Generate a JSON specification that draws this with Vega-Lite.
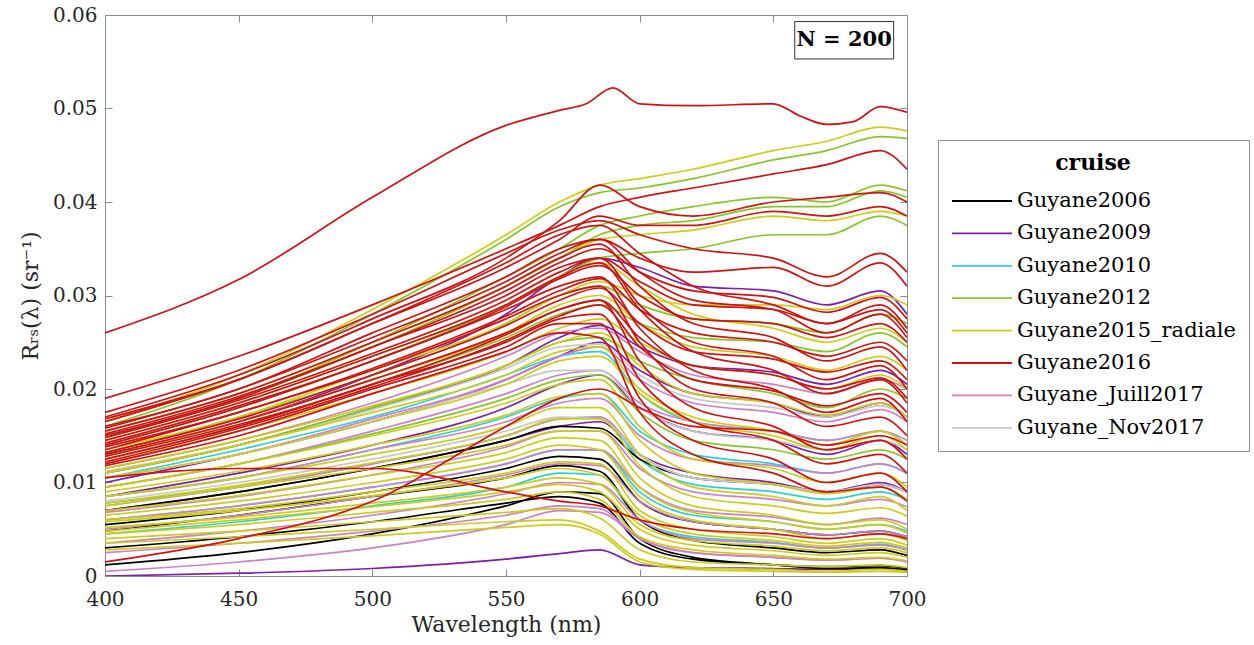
{
"$schema":"https://vega.github.io/schema/vega-lite/v6.json",
"autosize":"none",
"padding":{"left":105,"top":15,"right":347,"bottom":69},
"width":802,"height":561,
"background":"white",
"config":{
"font":"DejaVu Serif",
"view":{"stroke":"#8c8c8c","strokeWidth":1},
"axis":{"grid":false,"domain":false,"labelFlush":false,"tickColor":"#8c8c8c","tickSize":-7,"labelFontSize":20,"labelColor":"#262626","titleFontSize":22,"titleFontWeight":"normal","titleColor":"#262626","labelFont":"DejaVu Serif","titleFont":"DejaVu Serif"},
"legend":{"orient":"none","legendX":833,"legendY":125,"strokeColor":"#8c8c8c","fillColor":"white","padding":13,"titleFontSize":22,"titleFontWeight":"bold","titleAnchor":"middle","titleColor":"#000000","titlePadding":15,"labelFontSize":21,"labelColor":"#000000","labelLimit":400,"symbolType":"M-1,0H5","symbolSize":400,"symbolStrokeWidth":1.8,"rowPadding":11.4,"labelOffset":44}
},
"resolve":{"axis":{"x":"independent","y":"independent"}},
"datasets":{
"meta":[
{"s":1,"c":"Guyane2016"},{"s":2,"c":"Guyane2016"},{"s":3,"c":"Guyane2015_radiale"},{"s":4,"c":"Guyane2012"},{"s":5,"c":"Guyane2012"},{"s":6,"c":"Guyane2012"},{"s":7,"c":"Guyane2016"},{"s":8,"c":"Guyane2016"},{"s":9,"c":"Guyane2015_radiale"},{"s":10,"c":"Guyane2012"},
{"s":11,"c":"Guyane2016"},{"s":12,"c":"Guyane2016"},{"s":13,"c":"Guyane2016"},{"s":14,"c":"Guyane2016"},{"s":15,"c":"Guyane2016"},{"s":16,"c":"Guyane2016"},{"s":17,"c":"Guyane2016"},{"s":18,"c":"Guyane2016"},{"s":19,"c":"Guyane2016"},{"s":20,"c":"Guyane2016"},
{"s":21,"c":"Guyane2016"},{"s":22,"c":"Guyane2016"},{"s":23,"c":"Guyane2016"},{"s":24,"c":"Guyane2012"},{"s":25,"c":"Guyane2012"},{"s":26,"c":"Guyane2015_radiale"},{"s":27,"c":"Guyane2015_radiale"},{"s":28,"c":"Guyane2015_radiale"},{"s":29,"c":"Guyane2015_radiale"},{"s":30,"c":"Guyane2015_radiale"},
{"s":31,"c":"Guyane2015_radiale"},{"s":32,"c":"Guyane2015_radiale"},{"s":33,"c":"Guyane2015_radiale"},{"s":34,"c":"Guyane2015_radiale"},{"s":35,"c":"Guyane2015_radiale"},{"s":36,"c":"Guyane2015_radiale"},{"s":37,"c":"Guyane2015_radiale"},{"s":38,"c":"Guyane2015_radiale"},{"s":39,"c":"Guyane2009"},{"s":40,"c":"Guyane2009"},
{"s":41,"c":"Guyane2009"},{"s":42,"c":"Guyane2009"},{"s":43,"c":"Guyane2009"},{"s":44,"c":"Guyane2010"},{"s":45,"c":"Guyane2010"},{"s":46,"c":"Guyane2010"},{"s":47,"c":"Guyane2010"},{"s":48,"c":"Guyane2006"},{"s":49,"c":"Guyane2006"},{"s":50,"c":"Guyane2006"},
{"s":51,"c":"Guyane2006"},{"s":52,"c":"Guyane_Juill2017"},{"s":53,"c":"Guyane_Juill2017"},{"s":54,"c":"Guyane_Juill2017"},{"s":55,"c":"Guyane_Juill2017"},{"s":56,"c":"Guyane_Juill2017"},{"s":57,"c":"Guyane_Juill2017"},{"s":58,"c":"Guyane_Juill2017"},{"s":59,"c":"Guyane_Nov2017"},{"s":60,"c":"Guyane_Nov2017"},
{"s":61,"c":"Guyane2016"},{"s":62,"c":"Guyane2016"},{"s":63,"c":"Guyane2016"},{"s":64,"c":"Guyane2016"},{"s":65,"c":"Guyane2016"},{"s":66,"c":"Guyane2015_radiale"},{"s":67,"c":"Guyane2015_radiale"},{"s":68,"c":"Guyane2012"},
{"s":69,"c":"Guyane2015_radiale"},{"s":70,"c":"Guyane2015_radiale"},{"s":71,"c":"Guyane2015_radiale"},{"s":72,"c":"Guyane2015_radiale"},{"s":73,"c":"Guyane2015_radiale"},{"s":74,"c":"Guyane_Juill2017"},{"s":75,"c":"Guyane_Juill2017"},{"s":76,"c":"Guyane_Juill2017"},{"s":77,"c":"Guyane2009"},{"s":78,"c":"Guyane2010"},
{"s":79,"c":"Guyane2016"},{"s":80,"c":"Guyane2016"},{"s":81,"c":"Guyane2016"},{"s":82,"c":"Guyane2016"},{"s":83,"c":"Guyane2012"},{"s":84,"c":"Guyane2015_radiale"},{"s":85,"c":"Guyane_Nov2017"},{"s":86,"c":"Guyane2006"},{"s":87,"c":"Guyane_Juill2017"},{"s":88,"c":"Guyane2015_radiale"}
],
"pts":[
{"s":39,"w":400,"r":0.0},{"s":39,"w":450,"r":0.0003},{"s":39,"w":500,"r":0.0008},{"s":39,"w":550,"r":0.0018},{"s":39,"w":570,"r":0.0024},{"s":39,"w":585,"r":0.0028},{"s":39,"w":600,"r":0.0012},{"s":39,"w":620,"r":0.0009},{"s":39,"w":650,"r":0.0008},{"s":39,"w":670,"r":0.0007},{"s":39,"w":690,"r":0.0008},{"s":39,"w":700,"r":0.0007},
{"s":40,"w":400,"r":0.010},{"s":40,"w":450,"r":0.013},{"s":40,"w":500,"r":0.0165},{"s":40,"w":550,"r":0.021},{"s":40,"w":570,"r":0.0235},{"s":40,"w":585,"r":0.025},{"s":40,"w":600,"r":0.022},{"s":40,"w":620,"r":0.0195},{"s":40,"w":650,"r":0.0185},{"s":40,"w":670,"r":0.017},{"s":40,"w":690,"r":0.0185},{"s":40,"w":700,"r":0.017},
{"s":41,"w":400,"r":0.0085},{"s":41,"w":450,"r":0.011},{"s":41,"w":500,"r":0.014},{"s":41,"w":550,"r":0.018},{"s":41,"w":570,"r":0.0205},{"s":41,"w":585,"r":0.0215},{"s":41,"w":600,"r":0.018},{"s":41,"w":620,"r":0.0155},{"s":41,"w":650,"r":0.0145},{"s":41,"w":670,"r":0.013},{"s":41,"w":690,"r":0.0145},{"s":41,"w":700,"r":0.013},
{"s":42,"w":400,"r":0.013},{"s":42,"w":450,"r":0.0165},{"s":42,"w":500,"r":0.0215},{"s":42,"w":550,"r":0.028},{"s":42,"w":570,"r":0.032},{"s":42,"w":585,"r":0.034},{"s":42,"w":600,"r":0.033},{"s":42,"w":620,"r":0.031},{"s":42,"w":650,"r":0.0305},{"s":42,"w":670,"r":0.029},{"s":42,"w":690,"r":0.0305},{"s":42,"w":700,"r":0.028},
{"s":43,"w":400,"r":0.007},{"s":43,"w":450,"r":0.009},{"s":43,"w":500,"r":0.0115},{"s":43,"w":550,"r":0.0145},{"s":43,"w":570,"r":0.016},{"s":43,"w":585,"r":0.0165},{"s":43,"w":600,"r":0.013},{"s":43,"w":620,"r":0.011},{"s":43,"w":650,"r":0.010},{"s":43,"w":670,"r":0.009},{"s":43,"w":690,"r":0.010},{"s":43,"w":700,"r":0.009},
{"s":77,"w":400,"r":0.011},{"s":77,"w":450,"r":0.014},{"s":77,"w":500,"r":0.018},{"s":77,"w":550,"r":0.0225},{"s":77,"w":570,"r":0.0255},{"s":77,"w":585,"r":0.0268},{"s":77,"w":600,"r":0.0245},{"s":77,"w":620,"r":0.0225},{"s":77,"w":650,"r":0.0218},{"s":77,"w":670,"r":0.0205},{"s":77,"w":690,"r":0.022},{"s":77,"w":700,"r":0.0205},
{"s":44,"w":400,"r":0.0085},{"s":44,"w":450,"r":0.0105},{"s":44,"w":500,"r":0.0135},{"s":44,"w":550,"r":0.017},{"s":44,"w":570,"r":0.019},{"s":44,"w":585,"r":0.0195},{"s":44,"w":600,"r":0.0155},{"s":44,"w":620,"r":0.013},{"s":44,"w":650,"r":0.012},{"s":44,"w":670,"r":0.011},{"s":44,"w":690,"r":0.012},{"s":44,"w":700,"r":0.011},
{"s":45,"w":400,"r":0.006},{"s":45,"w":450,"r":0.0075},{"s":45,"w":500,"r":0.0095},{"s":45,"w":550,"r":0.012},{"s":45,"w":570,"r":0.0135},{"s":45,"w":585,"r":0.0135},{"s":45,"w":600,"r":0.009},{"s":45,"w":620,"r":0.0065},{"s":45,"w":650,"r":0.0058},{"s":45,"w":670,"r":0.005},{"s":45,"w":690,"r":0.0055},{"s":45,"w":700,"r":0.0048},
{"s":46,"w":400,"r":0.0045},{"s":46,"w":450,"r":0.0058},{"s":46,"w":500,"r":0.0075},{"s":46,"w":550,"r":0.0095},{"s":46,"w":570,"r":0.011},{"s":46,"w":585,"r":0.0108},{"s":46,"w":600,"r":0.006},{"s":46,"w":620,"r":0.0042},{"s":46,"w":650,"r":0.0036},{"s":46,"w":670,"r":0.003},{"s":46,"w":690,"r":0.0034},{"s":46,"w":700,"r":0.0028},
{"s":47,"w":400,"r":0.0105},{"s":47,"w":450,"r":0.0135},{"s":47,"w":500,"r":0.017},{"s":47,"w":550,"r":0.0215},{"s":47,"w":570,"r":0.0235},{"s":47,"w":585,"r":0.024},{"s":47,"w":600,"r":0.0195},{"s":47,"w":620,"r":0.0165},{"s":47,"w":650,"r":0.0155},{"s":47,"w":670,"r":0.0145},{"s":47,"w":690,"r":0.0155},{"s":47,"w":700,"r":0.014},
{"s":78,"w":400,"r":0.0078},{"s":78,"w":450,"r":0.0095},{"s":78,"w":500,"r":0.012},{"s":78,"w":550,"r":0.015},{"s":78,"w":570,"r":0.0168},{"s":78,"w":585,"r":0.017},{"s":78,"w":600,"r":0.0125},{"s":78,"w":620,"r":0.0098},{"s":78,"w":650,"r":0.009},{"s":78,"w":670,"r":0.0082},{"s":78,"w":690,"r":0.009},{"s":78,"w":700,"r":0.0082},
{"s":48,"w":400,"r":0.0012},{"s":48,"w":450,"r":0.0025},{"s":48,"w":500,"r":0.0045},{"s":48,"w":550,"r":0.0075},{"s":48,"w":570,"r":0.009},{"s":48,"w":585,"r":0.0088},{"s":48,"w":600,"r":0.004},{"s":48,"w":620,"r":0.002},{"s":48,"w":650,"r":0.0012},{"s":48,"w":670,"r":0.0008},{"s":48,"w":690,"r":0.0009},{"s":48,"w":700,"r":0.0006},
{"s":49,"w":400,"r":0.0048},{"s":49,"w":450,"r":0.0065},{"s":49,"w":500,"r":0.0085},{"s":49,"w":550,"r":0.0105},{"s":49,"w":570,"r":0.0118},{"s":49,"w":585,"r":0.0112},{"s":49,"w":600,"r":0.006},{"s":49,"w":620,"r":0.0038},{"s":49,"w":650,"r":0.003},{"s":49,"w":670,"r":0.0025},{"s":49,"w":690,"r":0.0028},{"s":49,"w":700,"r":0.0022},
{"s":50,"w":400,"r":0.003},{"s":50,"w":450,"r":0.0042},{"s":50,"w":500,"r":0.0058},{"s":50,"w":550,"r":0.0078},{"s":50,"w":570,"r":0.0085},{"s":50,"w":585,"r":0.0078},{"s":50,"w":600,"r":0.0035},{"s":50,"w":620,"r":0.0018},{"s":50,"w":650,"r":0.0012},{"s":50,"w":670,"r":0.001},{"s":50,"w":690,"r":0.0011},{"s":50,"w":700,"r":0.0008},
{"s":51,"w":400,"r":0.007},{"s":51,"w":450,"r":0.009},{"s":51,"w":500,"r":0.0115},{"s":51,"w":550,"r":0.0145},{"s":51,"w":570,"r":0.016},{"s":51,"w":585,"r":0.0158},{"s":51,"w":600,"r":0.0125},{"s":51,"w":620,"r":0.0105},{"s":51,"w":650,"r":0.0098},{"s":51,"w":670,"r":0.009},{"s":51,"w":690,"r":0.0098},{"s":51,"w":700,"r":0.009},
{"s":86,"w":400,"r":0.0055},{"s":86,"w":450,"r":0.007},{"s":86,"w":500,"r":0.009},{"s":86,"w":550,"r":0.0115},{"s":86,"w":570,"r":0.0128},{"s":86,"w":585,"r":0.0125},{"s":86,"w":600,"r":0.008},{"s":86,"w":620,"r":0.0058},{"s":86,"w":650,"r":0.005},{"s":86,"w":670,"r":0.0044},{"s":86,"w":690,"r":0.0048},{"s":86,"w":700,"r":0.0042},
{"s":52,"w":400,"r":0.0095},{"s":52,"w":450,"r":0.012},{"s":52,"w":500,"r":0.0155},{"s":52,"w":550,"r":0.0195},{"s":52,"w":570,"r":0.0215},{"s":52,"w":585,"r":0.022},{"s":52,"w":600,"r":0.0185},{"s":52,"w":620,"r":0.0165},{"s":52,"w":650,"r":0.0155},{"s":52,"w":670,"r":0.0145},{"s":52,"w":690,"r":0.0155},{"s":52,"w":700,"r":0.0145},
{"s":53,"w":400,"r":0.0075},{"s":53,"w":450,"r":0.0095},{"s":53,"w":500,"r":0.012},{"s":53,"w":550,"r":0.015},{"s":53,"w":570,"r":0.0168},{"s":53,"w":585,"r":0.017},{"s":53,"w":600,"r":0.013},{"s":53,"w":620,"r":0.0105},{"s":53,"w":650,"r":0.0098},{"s":53,"w":670,"r":0.009},{"s":53,"w":690,"r":0.0098},{"s":53,"w":700,"r":0.009},
{"s":54,"w":400,"r":0.006},{"s":54,"w":450,"r":0.0075},{"s":54,"w":500,"r":0.0095},{"s":54,"w":550,"r":0.012},{"s":54,"w":570,"r":0.0135},{"s":54,"w":585,"r":0.0135},{"s":54,"w":600,"r":0.0095},{"s":54,"w":620,"r":0.007},{"s":54,"w":650,"r":0.0063},{"s":54,"w":670,"r":0.0055},{"s":54,"w":690,"r":0.0062},{"s":54,"w":700,"r":0.0055},
{"s":55,"w":400,"r":0.0005},{"s":55,"w":450,"r":0.0015},{"s":55,"w":500,"r":0.003},{"s":55,"w":550,"r":0.0055},{"s":55,"w":570,"r":0.007},{"s":55,"w":585,"r":0.0068},{"s":55,"w":600,"r":0.004},{"s":55,"w":620,"r":0.0025},{"s":55,"w":650,"r":0.002},{"s":55,"w":670,"r":0.0017},{"s":55,"w":690,"r":0.0019},{"s":55,"w":700,"r":0.0015},
{"s":56,"w":400,"r":0.0115},{"s":56,"w":450,"r":0.0145},{"s":56,"w":500,"r":0.0185},{"s":56,"w":550,"r":0.0235},{"s":56,"w":570,"r":0.026},{"s":56,"w":585,"r":0.0265},{"s":56,"w":600,"r":0.024},{"s":56,"w":620,"r":0.0215},{"s":56,"w":650,"r":0.0205},{"s":56,"w":670,"r":0.0195},{"s":56,"w":690,"r":0.021},{"s":56,"w":700,"r":0.020},
{"s":57,"w":400,"r":0.0035},{"s":57,"w":450,"r":0.0048},{"s":57,"w":500,"r":0.0065},{"s":57,"w":550,"r":0.0088},{"s":57,"w":570,"r":0.010},{"s":57,"w":585,"r":0.0098},{"s":57,"w":600,"r":0.006},{"s":57,"w":620,"r":0.004},{"s":57,"w":650,"r":0.0035},{"s":57,"w":670,"r":0.003},{"s":57,"w":690,"r":0.0033},{"s":57,"w":700,"r":0.0028},
{"s":58,"w":400,"r":0.0085},{"s":58,"w":450,"r":0.0105},{"s":58,"w":500,"r":0.0135},{"s":58,"w":550,"r":0.0165},{"s":58,"w":570,"r":0.0185},{"s":58,"w":585,"r":0.019},{"s":58,"w":600,"r":0.015},{"s":58,"w":620,"r":0.0125},{"s":58,"w":650,"r":0.0118},{"s":58,"w":670,"r":0.011},{"s":58,"w":690,"r":0.012},{"s":58,"w":700,"r":0.011},
{"s":74,"w":400,"r":0.005},{"s":74,"w":450,"r":0.0065},{"s":74,"w":500,"r":0.0085},{"s":74,"w":550,"r":0.0108},{"s":74,"w":570,"r":0.012},{"s":74,"w":585,"r":0.0118},{"s":74,"w":600,"r":0.008},{"s":74,"w":620,"r":0.0058},{"s":74,"w":650,"r":0.005},{"s":74,"w":670,"r":0.0044},{"s":74,"w":690,"r":0.0048},{"s":74,"w":700,"r":0.0042},
{"s":75,"w":400,"r":0.0105},{"s":75,"w":450,"r":0.013},{"s":75,"w":500,"r":0.0168},{"s":75,"w":550,"r":0.021},{"s":75,"w":570,"r":0.0235},{"s":75,"w":585,"r":0.0245},{"s":75,"w":600,"r":0.021},{"s":75,"w":620,"r":0.0185},{"s":75,"w":650,"r":0.0175},{"s":75,"w":670,"r":0.0165},{"s":75,"w":690,"r":0.0178},{"s":75,"w":700,"r":0.0165},
{"s":76,"w":400,"r":0.0068},{"s":76,"w":450,"r":0.0085},{"s":76,"w":500,"r":0.0108},{"s":76,"w":550,"r":0.0138},{"s":76,"w":570,"r":0.0155},{"s":76,"w":585,"r":0.0155},{"s":76,"w":600,"r":0.0115},{"s":76,"w":620,"r":0.009},{"s":76,"w":650,"r":0.0082},{"s":76,"w":670,"r":0.0075},{"s":76,"w":690,"r":0.0082},{"s":76,"w":700,"r":0.0074},
{"s":87,"w":400,"r":0.0025},{"s":87,"w":450,"r":0.0035},{"s":87,"w":500,"r":0.0048},{"s":87,"w":550,"r":0.0065},{"s":87,"w":570,"r":0.0075},{"s":87,"w":585,"r":0.0072},{"s":87,"w":600,"r":0.004},{"s":87,"w":620,"r":0.0025},{"s":87,"w":650,"r":0.002},{"s":87,"w":670,"r":0.0017},{"s":87,"w":690,"r":0.0019},{"s":87,"w":700,"r":0.0016},
{"s":59,"w":400,"r":0.0105},{"s":59,"w":450,"r":0.013},{"s":59,"w":500,"r":0.0165},{"s":59,"w":550,"r":0.0205},{"s":59,"w":570,"r":0.022},{"s":59,"w":585,"r":0.022},{"s":59,"w":600,"r":0.018},{"s":59,"w":620,"r":0.0155},{"s":59,"w":650,"r":0.0145},{"s":59,"w":670,"r":0.0135},{"s":59,"w":690,"r":0.0145},{"s":59,"w":700,"r":0.0135},
{"s":60,"w":400,"r":0.008},{"s":60,"w":450,"r":0.010},{"s":60,"w":500,"r":0.0125},{"s":60,"w":550,"r":0.0155},{"s":60,"w":570,"r":0.017},{"s":60,"w":585,"r":0.0168},{"s":60,"w":600,"r":0.013},{"s":60,"w":620,"r":0.0105},{"s":60,"w":650,"r":0.0098},{"s":60,"w":670,"r":0.009},{"s":60,"w":690,"r":0.0098},{"s":60,"w":700,"r":0.009},
{"s":85,"w":400,"r":0.0112},{"s":85,"w":450,"r":0.014},{"s":85,"w":500,"r":0.0178},{"s":85,"w":550,"r":0.0222},{"s":85,"w":570,"r":0.0245},{"s":85,"w":585,"r":0.0248},{"s":85,"w":600,"r":0.0215},{"s":85,"w":620,"r":0.019},{"s":85,"w":650,"r":0.018},{"s":85,"w":670,"r":0.017},{"s":85,"w":690,"r":0.0182},{"s":85,"w":700,"r":0.017},
{"s":3,"w":400,"r":0.0165},{"s":3,"w":450,"r":0.0215},{"s":3,"w":500,"r":0.0285},{"s":3,"w":550,"r":0.0365},{"s":3,"w":570,"r":0.040},{"s":3,"w":585,"r":0.0418},{"s":3,"w":600,"r":0.0425},{"s":3,"w":620,"r":0.0435},{"s":3,"w":650,"r":0.0455},{"s":3,"w":670,"r":0.0465},{"s":3,"w":690,"r":0.048},{"s":3,"w":700,"r":0.0476},
{"s":4,"w":400,"r":0.016},{"s":4,"w":450,"r":0.021},{"s":4,"w":500,"r":0.028},{"s":4,"w":550,"r":0.036},{"s":4,"w":570,"r":0.0395},{"s":4,"w":585,"r":0.041},{"s":4,"w":600,"r":0.0415},{"s":4,"w":620,"r":0.0425},{"s":4,"w":650,"r":0.0445},{"s":4,"w":670,"r":0.0455},{"s":4,"w":690,"r":0.047},{"s":4,"w":700,"r":0.0468},
{"s":5,"w":400,"r":0.015},{"s":5,"w":450,"r":0.019},{"s":5,"w":500,"r":0.025},{"s":5,"w":550,"r":0.032},{"s":5,"w":570,"r":0.035},{"s":5,"w":585,"r":0.0375},{"s":5,"w":600,"r":0.0385},{"s":5,"w":620,"r":0.0395},{"s":5,"w":650,"r":0.0405},{"s":5,"w":670,"r":0.040},{"s":5,"w":690,"r":0.0418},{"s":5,"w":700,"r":0.0412},
{"s":6,"w":400,"r":0.0148},{"s":6,"w":450,"r":0.019},{"s":6,"w":500,"r":0.0245},{"s":6,"w":550,"r":0.031},{"s":6,"w":570,"r":0.034},{"s":6,"w":585,"r":0.0365},{"s":6,"w":600,"r":0.0375},{"s":6,"w":620,"r":0.038},{"s":6,"w":650,"r":0.0395},{"s":6,"w":670,"r":0.0395},{"s":6,"w":690,"r":0.0412},{"s":6,"w":700,"r":0.0405},
{"s":9,"w":400,"r":0.0155},{"s":9,"w":450,"r":0.0195},{"s":9,"w":500,"r":0.025},{"s":9,"w":550,"r":0.031},{"s":9,"w":570,"r":0.034},{"s":9,"w":585,"r":0.036},{"s":9,"w":600,"r":0.0365},{"s":9,"w":620,"r":0.037},{"s":9,"w":650,"r":0.0385},{"s":9,"w":670,"r":0.038},{"s":9,"w":690,"r":0.039},{"s":9,"w":700,"r":0.0385},
{"s":10,"w":400,"r":0.014},{"s":10,"w":450,"r":0.018},{"s":10,"w":500,"r":0.023},{"s":10,"w":550,"r":0.029},{"s":10,"w":570,"r":0.032},{"s":10,"w":585,"r":0.034},{"s":10,"w":600,"r":0.0345},{"s":10,"w":620,"r":0.035},{"s":10,"w":650,"r":0.0365},{"s":10,"w":670,"r":0.0365},{"s":10,"w":690,"r":0.0385},{"s":10,"w":700,"r":0.0375},
{"s":24,"w":400,"r":0.0125},{"s":24,"w":450,"r":0.016},{"s":24,"w":500,"r":0.0205},{"s":24,"w":550,"r":0.0255},{"s":24,"w":570,"r":0.028},{"s":24,"w":585,"r":0.029},{"s":24,"w":600,"r":0.027},{"s":24,"w":620,"r":0.0255},{"s":24,"w":650,"r":0.025},{"s":24,"w":670,"r":0.024},{"s":24,"w":690,"r":0.026},{"s":24,"w":700,"r":0.0245},
{"s":25,"w":400,"r":0.011},{"s":25,"w":450,"r":0.014},{"s":25,"w":500,"r":0.018},{"s":25,"w":550,"r":0.0225},{"s":25,"w":570,"r":0.025},{"s":25,"w":585,"r":0.0255},{"s":25,"w":600,"r":0.023},{"s":25,"w":620,"r":0.021},{"s":25,"w":650,"r":0.0195},{"s":25,"w":670,"r":0.018},{"s":25,"w":690,"r":0.020},{"s":25,"w":700,"r":0.019},
{"s":68,"w":400,"r":0.0132},{"s":68,"w":450,"r":0.017},{"s":68,"w":500,"r":0.0215},{"s":68,"w":550,"r":0.027},{"s":68,"w":570,"r":0.030},{"s":68,"w":585,"r":0.031},{"s":68,"w":600,"r":0.029},{"s":68,"w":620,"r":0.0275},{"s":68,"w":650,"r":0.027},{"s":68,"w":670,"r":0.026},{"s":68,"w":690,"r":0.028},{"s":68,"w":700,"r":0.027},
{"s":83,"w":400,"r":0.0095},{"s":83,"w":450,"r":0.012},{"s":83,"w":500,"r":0.0152},{"s":83,"w":550,"r":0.019},{"s":83,"w":570,"r":0.021},{"s":83,"w":585,"r":0.0215},{"s":83,"w":600,"r":0.0175},{"s":83,"w":620,"r":0.0145},{"s":83,"w":650,"r":0.0135},{"s":83,"w":670,"r":0.0125},{"s":83,"w":690,"r":0.0135},{"s":83,"w":700,"r":0.0125},
{"s":26,"w":400,"r":0.0135},{"s":26,"w":450,"r":0.017},{"s":26,"w":500,"r":0.022},{"s":26,"w":550,"r":0.027},{"s":26,"w":570,"r":0.030},{"s":26,"w":585,"r":0.0315},{"s":26,"w":600,"r":0.030},{"s":26,"w":620,"r":0.029},{"s":26,"w":650,"r":0.029},{"s":26,"w":670,"r":0.0285},{"s":26,"w":690,"r":0.030},{"s":26,"w":700,"r":0.029},
{"s":27,"w":400,"r":0.012},{"s":27,"w":450,"r":0.0155},{"s":27,"w":500,"r":0.0195},{"s":27,"w":550,"r":0.024},{"s":27,"w":570,"r":0.0265},{"s":27,"w":585,"r":0.0275},{"s":27,"w":600,"r":0.025},{"s":27,"w":620,"r":0.0225},{"s":27,"w":650,"r":0.0215},{"s":27,"w":670,"r":0.020},{"s":27,"w":690,"r":0.0215},{"s":27,"w":700,"r":0.020},
{"s":28,"w":400,"r":0.011},{"s":28,"w":450,"r":0.014},{"s":28,"w":500,"r":0.0175},{"s":28,"w":550,"r":0.0215},{"s":28,"w":570,"r":0.024},{"s":28,"w":585,"r":0.0245},{"s":28,"w":600,"r":0.020},{"s":28,"w":620,"r":0.017},{"s":28,"w":650,"r":0.0155},{"s":28,"w":670,"r":0.014},{"s":28,"w":690,"r":0.0155},{"s":28,"w":700,"r":0.014},
{"s":29,"w":400,"r":0.0095},{"s":29,"w":450,"r":0.012},{"s":29,"w":500,"r":0.015},{"s":29,"w":550,"r":0.0185},{"s":29,"w":570,"r":0.0205},{"s":29,"w":585,"r":0.021},{"s":29,"w":600,"r":0.016},{"s":29,"w":620,"r":0.0125},{"s":29,"w":650,"r":0.0115},{"s":29,"w":670,"r":0.010},{"s":29,"w":690,"r":0.011},{"s":29,"w":700,"r":0.0095},
{"s":30,"w":400,"r":0.0085},{"s":30,"w":450,"r":0.0105},{"s":30,"w":500,"r":0.013},{"s":30,"w":550,"r":0.016},{"s":30,"w":570,"r":0.018},{"s":30,"w":585,"r":0.018},{"s":30,"w":600,"r":0.013},{"s":30,"w":620,"r":0.0095},{"s":30,"w":650,"r":0.0085},{"s":30,"w":670,"r":0.0075},{"s":30,"w":690,"r":0.0085},{"s":30,"w":700,"r":0.007},
{"s":31,"w":400,"r":0.0075},{"s":31,"w":450,"r":0.0095},{"s":31,"w":500,"r":0.0115},{"s":31,"w":550,"r":0.014},{"s":31,"w":570,"r":0.0155},{"s":31,"w":585,"r":0.0155},{"s":31,"w":600,"r":0.0105},{"s":31,"w":620,"r":0.0075},{"s":31,"w":650,"r":0.0065},{"s":31,"w":670,"r":0.0055},{"s":31,"w":690,"r":0.006},{"s":31,"w":700,"r":0.005},
{"s":32,"w":400,"r":0.0065},{"s":32,"w":450,"r":0.008},{"s":32,"w":500,"r":0.010},{"s":32,"w":550,"r":0.0125},{"s":32,"w":570,"r":0.014},{"s":32,"w":585,"r":0.0135},{"s":32,"w":600,"r":0.0085},{"s":32,"w":620,"r":0.006},{"s":32,"w":650,"r":0.005},{"s":32,"w":670,"r":0.004},{"s":32,"w":690,"r":0.0045},{"s":32,"w":700,"r":0.0038},
{"s":33,"w":400,"r":0.006},{"s":33,"w":450,"r":0.0072},{"s":33,"w":500,"r":0.009},{"s":33,"w":550,"r":0.011},{"s":33,"w":570,"r":0.0122},{"s":33,"w":585,"r":0.012},{"s":33,"w":600,"r":0.007},{"s":33,"w":620,"r":0.005},{"s":33,"w":650,"r":0.0042},{"s":33,"w":670,"r":0.0035},{"s":33,"w":690,"r":0.004},{"s":33,"w":700,"r":0.0033},
{"s":34,"w":400,"r":0.0052},{"s":34,"w":450,"r":0.0063},{"s":34,"w":500,"r":0.0078},{"s":34,"w":550,"r":0.0095},{"s":34,"w":570,"r":0.0105},{"s":34,"w":585,"r":0.0098},{"s":34,"w":600,"r":0.0055},{"s":34,"w":620,"r":0.0038},{"s":34,"w":650,"r":0.0032},{"s":34,"w":670,"r":0.0027},{"s":34,"w":690,"r":0.003},{"s":34,"w":700,"r":0.0025},
{"s":35,"w":400,"r":0.0045},{"s":35,"w":450,"r":0.0055},{"s":35,"w":500,"r":0.0068},{"s":35,"w":550,"r":0.0082},{"s":35,"w":570,"r":0.009},{"s":35,"w":585,"r":0.0082},{"s":35,"w":600,"r":0.0042},{"s":35,"w":620,"r":0.0028},{"s":35,"w":650,"r":0.0022},{"s":35,"w":670,"r":0.0018},{"s":35,"w":690,"r":0.002},{"s":35,"w":700,"r":0.0016},
{"s":36,"w":400,"r":0.004},{"s":36,"w":450,"r":0.0048},{"s":36,"w":500,"r":0.0058},{"s":36,"w":550,"r":0.0068},{"s":36,"w":570,"r":0.0072},{"s":36,"w":585,"r":0.0062},{"s":36,"w":600,"r":0.0028},{"s":36,"w":620,"r":0.0015},{"s":36,"w":650,"r":0.0012},{"s":36,"w":670,"r":0.001},{"s":36,"w":690,"r":0.0012},{"s":36,"w":700,"r":0.0009},
{"s":37,"w":400,"r":0.0035},{"s":37,"w":450,"r":0.0042},{"s":37,"w":500,"r":0.005},{"s":37,"w":550,"r":0.0058},{"s":37,"w":570,"r":0.006},{"s":37,"w":585,"r":0.0048},{"s":37,"w":600,"r":0.0018},{"s":37,"w":620,"r":0.0009},{"s":37,"w":650,"r":0.0007},{"s":37,"w":670,"r":0.0005},{"s":37,"w":690,"r":0.0007},{"s":37,"w":700,"r":0.0005},
{"s":38,"w":400,"r":0.0105},{"s":38,"w":450,"r":0.013},{"s":38,"w":500,"r":0.0165},{"s":38,"w":550,"r":0.0205},{"s":38,"w":570,"r":0.023},{"s":38,"w":585,"r":0.0235},{"s":38,"w":600,"r":0.0195},{"s":38,"w":620,"r":0.0165},{"s":38,"w":650,"r":0.015},{"s":38,"w":670,"r":0.0135},{"s":38,"w":690,"r":0.015},{"s":38,"w":700,"r":0.0135},
{"s":66,"w":400,"r":0.0145},{"s":66,"w":450,"r":0.0185},{"s":66,"w":500,"r":0.0235},{"s":66,"w":550,"r":0.029},{"s":66,"w":570,"r":0.032},{"s":66,"w":585,"r":0.0335},{"s":66,"w":600,"r":0.031},{"s":66,"w":620,"r":0.028},{"s":66,"w":650,"r":0.0265},{"s":66,"w":670,"r":0.025},{"s":66,"w":690,"r":0.0265},{"s":66,"w":700,"r":0.025},
{"s":67,"w":400,"r":0.0128},{"s":67,"w":450,"r":0.0165},{"s":67,"w":500,"r":0.021},{"s":67,"w":550,"r":0.026},{"s":67,"w":570,"r":0.029},{"s":67,"w":585,"r":0.030},{"s":67,"w":600,"r":0.027},{"s":67,"w":620,"r":0.0245},{"s":67,"w":650,"r":0.0235},{"s":67,"w":670,"r":0.022},{"s":67,"w":690,"r":0.0235},{"s":67,"w":700,"r":0.022},
{"s":69,"w":400,"r":0.0028},{"s":69,"w":450,"r":0.0035},{"s":69,"w":500,"r":0.0043},{"s":69,"w":550,"r":0.0052},{"s":69,"w":570,"r":0.0055},{"s":69,"w":585,"r":0.0045},{"s":69,"w":600,"r":0.0015},{"s":69,"w":620,"r":0.0007},{"s":69,"w":650,"r":0.0005},{"s":69,"w":670,"r":0.0004},{"s":69,"w":690,"r":0.0005},{"s":69,"w":700,"r":0.0004},
{"s":70,"w":400,"r":0.0058},{"s":70,"w":450,"r":0.007},{"s":70,"w":500,"r":0.0086},{"s":70,"w":550,"r":0.0105},{"s":70,"w":570,"r":0.0115},{"s":70,"w":585,"r":0.0108},{"s":70,"w":600,"r":0.0065},{"s":70,"w":620,"r":0.0045},{"s":70,"w":650,"r":0.0038},{"s":70,"w":670,"r":0.0032},{"s":70,"w":690,"r":0.0036},{"s":70,"w":700,"r":0.003},
{"s":71,"w":400,"r":0.007},{"s":71,"w":450,"r":0.0086},{"s":71,"w":500,"r":0.0108},{"s":71,"w":550,"r":0.0132},{"s":71,"w":570,"r":0.0148},{"s":71,"w":585,"r":0.0145},{"s":71,"w":600,"r":0.0095},{"s":71,"w":620,"r":0.0068},{"s":71,"w":650,"r":0.0058},{"s":71,"w":670,"r":0.005},{"s":71,"w":690,"r":0.0055},{"s":71,"w":700,"r":0.0046},
{"s":72,"w":400,"r":0.0048},{"s":72,"w":450,"r":0.006},{"s":72,"w":500,"r":0.0074},{"s":72,"w":550,"r":0.009},{"s":72,"w":570,"r":0.0098},{"s":72,"w":585,"r":0.009},{"s":72,"w":600,"r":0.005},{"s":72,"w":620,"r":0.0033},{"s":72,"w":650,"r":0.0027},{"s":72,"w":670,"r":0.0022},{"s":72,"w":690,"r":0.0025},{"s":72,"w":700,"r":0.002},
{"s":73,"w":400,"r":0.009},{"s":73,"w":450,"r":0.0112},{"s":73,"w":500,"r":0.014},{"s":73,"w":550,"r":0.0172},{"s":73,"w":570,"r":0.0192},{"s":73,"w":585,"r":0.0195},{"s":73,"w":600,"r":0.0145},{"s":73,"w":620,"r":0.011},{"s":73,"w":650,"r":0.0098},{"s":73,"w":670,"r":0.0088},{"s":73,"w":690,"r":0.0095},{"s":73,"w":700,"r":0.0082},
{"s":84,"w":400,"r":0.0115},{"s":84,"w":450,"r":0.0145},{"s":84,"w":500,"r":0.0182},{"s":84,"w":550,"r":0.0225},{"s":84,"w":570,"r":0.025},{"s":84,"w":585,"r":0.026},{"s":84,"w":600,"r":0.0225},{"s":84,"w":620,"r":0.0195},{"s":84,"w":650,"r":0.0185},{"s":84,"w":670,"r":0.0172},{"s":84,"w":690,"r":0.0185},{"s":84,"w":700,"r":0.017},
{"s":88,"w":400,"r":0.0078},{"s":88,"w":450,"r":0.0097},{"s":88,"w":500,"r":0.0121},{"s":88,"w":550,"r":0.015},{"s":88,"w":570,"r":0.0168},{"s":88,"w":585,"r":0.0168},{"s":88,"w":600,"r":0.0118},{"s":88,"w":620,"r":0.0085},{"s":88,"w":650,"r":0.0075},{"s":88,"w":670,"r":0.0067},{"s":88,"w":690,"r":0.0073},{"s":88,"w":700,"r":0.0064},
{"s":1,"w":400,"r":0.026},{"s":1,"w":450,"r":0.0317},{"s":1,"w":500,"r":0.0405},{"s":1,"w":550,"r":0.0482},{"s":1,"w":570,"r":0.0498},{"s":1,"w":580,"r":0.0505},{"s":1,"w":590,"r":0.0522},{"s":1,"w":600,"r":0.0505},{"s":1,"w":620,"r":0.0503},{"s":1,"w":650,"r":0.0505},{"s":1,"w":660,"r":0.0492},{"s":1,"w":670,"r":0.0483},{"s":1,"w":680,"r":0.0486},{"s":1,"w":690,"r":0.0502},{"s":1,"w":700,"r":0.0496},
{"s":2,"w":400,"r":0.019},{"s":2,"w":450,"r":0.0235},{"s":2,"w":500,"r":0.029},{"s":2,"w":550,"r":0.035},{"s":2,"w":570,"r":0.0375},{"s":2,"w":585,"r":0.0395},{"s":2,"w":600,"r":0.0405},{"s":2,"w":620,"r":0.0415},{"s":2,"w":650,"r":0.043},{"s":2,"w":670,"r":0.044},{"s":2,"w":690,"r":0.0455},{"s":2,"w":700,"r":0.0435},
{"s":7,"w":400,"r":0.017},{"s":7,"w":450,"r":0.0215},{"s":7,"w":500,"r":0.0275},{"s":7,"w":550,"r":0.034},{"s":7,"w":570,"r":0.038},{"s":7,"w":585,"r":0.0418},{"s":7,"w":600,"r":0.0395},{"s":7,"w":620,"r":0.0385},{"s":7,"w":650,"r":0.040},{"s":7,"w":670,"r":0.0405},{"s":7,"w":690,"r":0.041},{"s":7,"w":700,"r":0.040},
{"s":8,"w":400,"r":0.0168},{"s":8,"w":450,"r":0.021},{"s":8,"w":500,"r":0.027},{"s":8,"w":550,"r":0.033},{"s":8,"w":570,"r":0.036},{"s":8,"w":585,"r":0.0385},{"s":8,"w":600,"r":0.0375},{"s":8,"w":620,"r":0.0375},{"s":8,"w":650,"r":0.039},{"s":8,"w":670,"r":0.0385},{"s":8,"w":690,"r":0.0395},{"s":8,"w":700,"r":0.0385},
{"s":11,"w":400,"r":0.0165},{"s":11,"w":450,"r":0.021},{"s":11,"w":500,"r":0.027},{"s":11,"w":550,"r":0.0335},{"s":11,"w":570,"r":0.0365},{"s":11,"w":585,"r":0.0375},{"s":11,"w":600,"r":0.0345},{"s":11,"w":620,"r":0.031},{"s":11,"w":650,"r":0.029},{"s":11,"w":670,"r":0.027},{"s":11,"w":690,"r":0.029},{"s":11,"w":700,"r":0.0265},
{"s":12,"w":400,"r":0.016},{"s":12,"w":450,"r":0.020},{"s":12,"w":500,"r":0.026},{"s":12,"w":550,"r":0.032},{"s":12,"w":570,"r":0.035},{"s":12,"w":585,"r":0.036},{"s":12,"w":600,"r":0.0325},{"s":12,"w":620,"r":0.0295},{"s":12,"w":650,"r":0.0285},{"s":12,"w":670,"r":0.026},{"s":12,"w":690,"r":0.028},{"s":12,"w":700,"r":0.0255},
{"s":13,"w":400,"r":0.0155},{"s":13,"w":450,"r":0.0195},{"s":13,"w":500,"r":0.025},{"s":13,"w":550,"r":0.031},{"s":13,"w":570,"r":0.034},{"s":13,"w":585,"r":0.0355},{"s":13,"w":600,"r":0.031},{"s":13,"w":620,"r":0.027},{"s":13,"w":650,"r":0.0255},{"s":13,"w":670,"r":0.023},{"s":13,"w":690,"r":0.0245},{"s":13,"w":700,"r":0.022},
{"s":14,"w":400,"r":0.015},{"s":14,"w":450,"r":0.019},{"s":14,"w":500,"r":0.0245},{"s":14,"w":550,"r":0.030},{"s":14,"w":570,"r":0.033},{"s":14,"w":585,"r":0.034},{"s":14,"w":600,"r":0.029},{"s":14,"w":620,"r":0.025},{"s":14,"w":650,"r":0.0235},{"s":14,"w":670,"r":0.021},{"s":14,"w":690,"r":0.0225},{"s":14,"w":700,"r":0.020},
{"s":15,"w":400,"r":0.0145},{"s":15,"w":450,"r":0.0185},{"s":15,"w":500,"r":0.0235},{"s":15,"w":550,"r":0.029},{"s":15,"w":570,"r":0.032},{"s":15,"w":585,"r":0.0335},{"s":15,"w":600,"r":0.0285},{"s":15,"w":620,"r":0.024},{"s":15,"w":650,"r":0.022},{"s":15,"w":670,"r":0.0195},{"s":15,"w":690,"r":0.021},{"s":15,"w":700,"r":0.0185},
{"s":16,"w":400,"r":0.014},{"s":16,"w":450,"r":0.018},{"s":16,"w":500,"r":0.023},{"s":16,"w":550,"r":0.0285},{"s":16,"w":570,"r":0.031},{"s":16,"w":585,"r":0.032},{"s":16,"w":600,"r":0.0265},{"s":16,"w":620,"r":0.022},{"s":16,"w":650,"r":0.020},{"s":16,"w":670,"r":0.0175},{"s":16,"w":690,"r":0.019},{"s":16,"w":700,"r":0.0165},
{"s":17,"w":400,"r":0.0135},{"s":17,"w":450,"r":0.0175},{"s":17,"w":500,"r":0.022},{"s":17,"w":550,"r":0.0275},{"s":17,"w":570,"r":0.030},{"s":17,"w":585,"r":0.031},{"s":17,"w":600,"r":0.025},{"s":17,"w":620,"r":0.020},{"s":17,"w":650,"r":0.0185},{"s":17,"w":670,"r":0.016},{"s":17,"w":690,"r":0.017},{"s":17,"w":700,"r":0.015},
{"s":18,"w":400,"r":0.013},{"s":18,"w":450,"r":0.0165},{"s":18,"w":500,"r":0.021},{"s":18,"w":550,"r":0.026},{"s":18,"w":570,"r":0.0285},{"s":18,"w":585,"r":0.0295},{"s":18,"w":600,"r":0.023},{"s":18,"w":620,"r":0.018},{"s":18,"w":650,"r":0.016},{"s":18,"w":670,"r":0.0135},{"s":18,"w":690,"r":0.0145},{"s":18,"w":700,"r":0.0125},
{"s":19,"w":400,"r":0.0125},{"s":19,"w":450,"r":0.016},{"s":19,"w":500,"r":0.0205},{"s":19,"w":550,"r":0.025},{"s":19,"w":570,"r":0.0275},{"s":19,"w":585,"r":0.028},{"s":19,"w":600,"r":0.021},{"s":19,"w":620,"r":0.0165},{"s":19,"w":650,"r":0.0145},{"s":19,"w":670,"r":0.012},{"s":19,"w":690,"r":0.013},{"s":19,"w":700,"r":0.011},
{"s":20,"w":400,"r":0.012},{"s":20,"w":450,"r":0.0155},{"s":20,"w":500,"r":0.020},{"s":20,"w":550,"r":0.0245},{"s":20,"w":570,"r":0.027},{"s":20,"w":585,"r":0.027},{"s":20,"w":600,"r":0.019},{"s":20,"w":620,"r":0.0145},{"s":20,"w":650,"r":0.0125},{"s":20,"w":670,"r":0.010},{"s":20,"w":690,"r":0.011},{"s":20,"w":700,"r":0.009},
{"s":21,"w":400,"r":0.0118},{"s":21,"w":450,"r":0.015},{"s":21,"w":500,"r":0.0195},{"s":21,"w":550,"r":0.024},{"s":21,"w":570,"r":0.026},{"s":21,"w":585,"r":0.0255},{"s":21,"w":600,"r":0.0175},{"s":21,"w":620,"r":0.013},{"s":21,"w":650,"r":0.011},{"s":21,"w":670,"r":0.009},{"s":21,"w":690,"r":0.0095},{"s":21,"w":700,"r":0.008},
{"s":22,"w":400,"r":0.0015},{"s":22,"w":450,"r":0.004},{"s":22,"w":500,"r":0.008},{"s":22,"w":550,"r":0.016},{"s":22,"w":570,"r":0.019},{"s":22,"w":585,"r":0.020},{"s":22,"w":600,"r":0.018},{"s":22,"w":620,"r":0.016},{"s":22,"w":650,"r":0.0155},{"s":22,"w":670,"r":0.014},{"s":22,"w":690,"r":0.015},{"s":22,"w":700,"r":0.014},
{"s":23,"w":400,"r":0.0105},{"s":23,"w":450,"r":0.0115},{"s":23,"w":500,"r":0.0115},{"s":23,"w":550,"r":0.009},{"s":23,"w":570,"r":0.008},{"s":23,"w":585,"r":0.0075},{"s":23,"w":600,"r":0.006},{"s":23,"w":620,"r":0.005},{"s":23,"w":650,"r":0.0045},{"s":23,"w":670,"r":0.004},{"s":23,"w":690,"r":0.0045},{"s":23,"w":700,"r":0.004},
{"s":61,"w":400,"r":0.0175},{"s":61,"w":450,"r":0.022},{"s":61,"w":500,"r":0.028},{"s":61,"w":550,"r":0.0345},{"s":61,"w":570,"r":0.037},{"s":61,"w":585,"r":0.038},{"s":61,"w":600,"r":0.0365},{"s":61,"w":620,"r":0.035},{"s":61,"w":650,"r":0.034},{"s":61,"w":670,"r":0.032},{"s":61,"w":690,"r":0.0345},{"s":61,"w":700,"r":0.0325},
{"s":62,"w":400,"r":0.0158},{"s":62,"w":450,"r":0.020},{"s":62,"w":500,"r":0.0255},{"s":62,"w":550,"r":0.0315},{"s":62,"w":570,"r":0.0345},{"s":62,"w":585,"r":0.036},{"s":62,"w":600,"r":0.034},{"s":62,"w":620,"r":0.0325},{"s":62,"w":650,"r":0.033},{"s":62,"w":670,"r":0.031},{"s":62,"w":690,"r":0.0335},{"s":62,"w":700,"r":0.031},
{"s":63,"w":400,"r":0.0148},{"s":63,"w":450,"r":0.0188},{"s":63,"w":500,"r":0.0238},{"s":63,"w":550,"r":0.0295},{"s":63,"w":570,"r":0.0325},{"s":63,"w":585,"r":0.034},{"s":63,"w":600,"r":0.0315},{"s":63,"w":620,"r":0.029},{"s":63,"w":650,"r":0.0285},{"s":63,"w":670,"r":0.027},{"s":63,"w":690,"r":0.0285},{"s":63,"w":700,"r":0.026},
{"s":64,"w":400,"r":0.0138},{"s":64,"w":450,"r":0.0175},{"s":64,"w":500,"r":0.0222},{"s":64,"w":550,"r":0.0278},{"s":64,"w":570,"r":0.0305},{"s":64,"w":585,"r":0.0318},{"s":64,"w":600,"r":0.0285},{"s":64,"w":620,"r":0.026},{"s":64,"w":650,"r":0.025},{"s":64,"w":670,"r":0.0235},{"s":64,"w":690,"r":0.025},{"s":64,"w":700,"r":0.023},
{"s":65,"w":400,"r":0.0128},{"s":65,"w":450,"r":0.0162},{"s":65,"w":500,"r":0.0205},{"s":65,"w":550,"r":0.0258},{"s":65,"w":570,"r":0.0285},{"s":65,"w":585,"r":0.0295},{"s":65,"w":600,"r":0.0255},{"s":65,"w":620,"r":0.0225},{"s":65,"w":650,"r":0.0215},{"s":65,"w":670,"r":0.020},{"s":65,"w":690,"r":0.0212},{"s":65,"w":700,"r":0.019},
{"s":79,"w":400,"r":0.0122},{"s":79,"w":450,"r":0.0158},{"s":79,"w":500,"r":0.0202},{"s":79,"w":550,"r":0.0252},{"s":79,"w":570,"r":0.0278},{"s":79,"w":585,"r":0.029},{"s":79,"w":600,"r":0.0245},{"s":79,"w":620,"r":0.021},{"s":79,"w":650,"r":0.0198},{"s":79,"w":670,"r":0.0182},{"s":79,"w":690,"r":0.0195},{"s":79,"w":700,"r":0.0175},
{"s":80,"w":400,"r":0.0132},{"s":80,"w":450,"r":0.0168},{"s":80,"w":500,"r":0.0215},{"s":80,"w":550,"r":0.0268},{"s":80,"w":570,"r":0.0295},{"s":80,"w":585,"r":0.0308},{"s":80,"w":600,"r":0.027},{"s":80,"w":620,"r":0.024},{"s":80,"w":650,"r":0.0232},{"s":80,"w":670,"r":0.0218},{"s":80,"w":690,"r":0.023},{"s":80,"w":700,"r":0.021},
{"s":81,"w":400,"r":0.0142},{"s":81,"w":450,"r":0.0182},{"s":81,"w":500,"r":0.023},{"s":81,"w":550,"r":0.0288},{"s":81,"w":570,"r":0.0318},{"s":81,"w":585,"r":0.0332},{"s":81,"w":600,"r":0.030},{"s":81,"w":620,"r":0.0275},{"s":81,"w":650,"r":0.027},{"s":81,"w":670,"r":0.0255},{"s":81,"w":690,"r":0.027},{"s":81,"w":700,"r":0.025},
{"s":82,"w":400,"r":0.0152},{"s":82,"w":450,"r":0.0192},{"s":82,"w":500,"r":0.0245},{"s":82,"w":550,"r":0.0305},{"s":82,"w":570,"r":0.0335},{"s":82,"w":585,"r":0.035},{"s":82,"w":600,"r":0.0325},{"s":82,"w":620,"r":0.0305},{"s":82,"w":650,"r":0.0298},{"s":82,"w":670,"r":0.0282},{"s":82,"w":690,"r":0.0298},{"s":82,"w":700,"r":0.0275}
]
},
"layer":[
{
"data":{"name":"pts"},
"transform":[{"lookup":"s","from":{"data":{"name":"meta"},"key":"s","fields":["c"]}}],
"mark":{"type":"line","strokeWidth":1.7,"interpolate":"monotone","clip":true},
"encoding":{
"x":{"field":"w","type":"quantitative","scale":{"domain":[400,700],"nice":false},"axis":{"values":[400,450,500,550,600,650,700],"title":"Wavelength (nm)","labelPadding":20,"titlePadding":5}},
"y":{"field":"r","type":"quantitative","scale":{"domain":[0,0.06],"nice":false},"axis":{"values":[0,0.01,0.02,0.03,0.04,0.05,0.06],"format":"~g","title":"Rᵣₛ(λ) (sr⁻¹)","labelPadding":15,"titlePadding":10}},
"color":{"field":"c","type":"nominal","title":"cruise","scale":{"domain":["Guyane2006","Guyane2009","Guyane2010","Guyane2012","Guyane2015_radiale","Guyane2016","Guyane_Juill2017","Guyane_Nov2017"],"range":["#000000","#7d1ea8","#2ccfd8","#86c62a","#cccc1a","#cc1414","#cc80c8","#c8c8c8"]}},
"detail":{"field":"s","type":"nominal"}
}
},
{
"data":{"values":[{}]},
"mark":{"type":"rect","fill":"white","stroke":"#333333","strokeWidth":1},
"encoding":{
"x":{"datum":658,"type":"quantitative","axis":{"orient":"top","values":[400,450,500,550,600,650,700],"labels":false,"title":null}},
"x2":{"datum":695},
"y":{"datum":0.0553,"type":"quantitative","axis":{"orient":"right","values":[0,0.01,0.02,0.03,0.04,0.05,0.06],"labels":false,"title":null}},
"y2":{"datum":0.0593}}
},
{
"data":{"values":[{}]},
"mark":{"type":"text","font":"DejaVu Serif","fontSize":21,"fontWeight":"bold","color":"#000000","align":"center","baseline":"middle"},
"encoding":{"x":{"datum":676.5,"type":"quantitative","axis":null},"y":{"datum":0.0573,"type":"quantitative","axis":null},"text":{"value":"N = 200"}}
}
]
}
